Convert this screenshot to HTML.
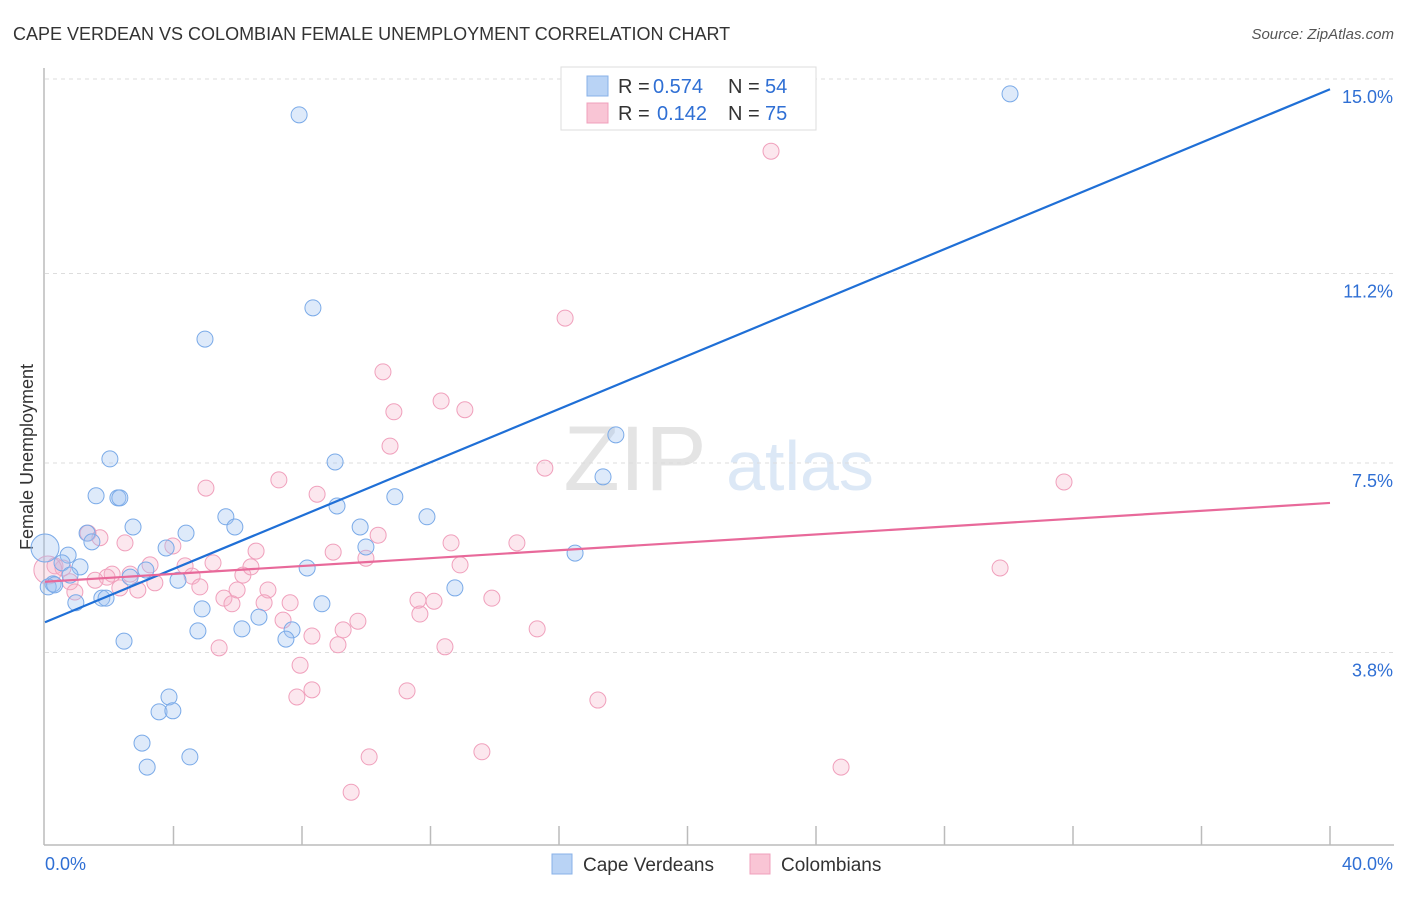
<!DOCTYPE html>
<html><head><meta charset="utf-8"><style>
body{margin:0;background:#fff;font-family:"Liberation Sans",sans-serif;}
svg text{font-family:"Liberation Sans",sans-serif;}
</style></head><body>
<svg id="chart" width="1406" height="892" xmlns="http://www.w3.org/2000/svg">
<text x="13" y="40" font-size="18" fill="#333">CAPE VERDEAN VS COLOMBIAN FEMALE UNEMPLOYMENT CORRELATION CHART</text>
<text x="1394" y="39" font-size="15" fill="#555" text-anchor="end" font-style="italic">Source: ZipAtlas.com</text>
<text transform="translate(33,457) rotate(-90)" font-size="18" fill="#333" text-anchor="middle">Female Unemployment</text>
<g><text x="635" y="490" font-size="92" fill="#e4e4e4" text-anchor="middle" font-family="Liberation Serif,serif">ZIP</text><text x="800" y="490" font-size="70" fill="#dce8f6" text-anchor="middle">atlas</text></g>
<g id="grid"></g><g id="axes"></g><g id="pts"></g><g id="lines"></g>
<g>
<rect x="561" y="67" width="255" height="63" fill="#fff" stroke="#ddd"/>
<rect x="587" y="76" width="21" height="20" fill="#b9d3f5" stroke="#88b1e8"/>
<rect x="587" y="103" width="21" height="20" fill="#f9c5d5" stroke="#f0a0bc"/>
<text x="618" y="93" font-size="20" fill="#333">R =</text>
<text x="653" y="93" font-size="20" fill="#2f6fd4">0.574</text>
<text x="728" y="93" font-size="20" fill="#333">N =</text>
<text x="765" y="93" font-size="20" fill="#2f6fd4">54</text>
<text x="618" y="120" font-size="20" fill="#333">R =</text>
<text x="657" y="120" font-size="20" fill="#2f6fd4">0.142</text>
<text x="728" y="120" font-size="20" fill="#333">N =</text>
<text x="765" y="120" font-size="20" fill="#2f6fd4">75</text>
</g>
<g>
<rect x="552" y="854" width="20" height="20" fill="#b9d3f5" stroke="#88b1e8"/>
<text x="583" y="871" font-size="19" fill="#333">Cape Verdeans</text>
<rect x="750" y="854" width="20" height="20" fill="#f9c5d5" stroke="#f0a0bc"/>
<text x="781" y="871" font-size="19" fill="#333">Colombians</text>
</g>
</svg>
<script>
const blueX=[7.91,30.04,8.34,4.98,2.02,9.03,17.77,17.37,1.59,2.27,2.33,10.89,9.09,11.89,5.63,5.91,2.74,4.39,9.81,1.31,1.46,9.99,3.77,16.50,0.72,0.53,1.09,3.14,8.16,2.65,0.78,4.14,0.25,0.1,0.3,12.76,1.77,1.90,0.96,8.62,4.89,6.66,6.13,4.76,7.69,7.50,2.46,3.86,3.55,3.98,3.02,3.18,4.51,0];
const blueY=[14.30,14.71,10.53,9.92,7.58,7.52,8.05,7.23,6.86,6.82,6.82,6.84,6.66,6.45,6.45,6.25,6.25,6.13,6.25,6.13,5.96,5.86,5.84,5.74,5.70,5.55,5.47,5.41,5.45,5.27,5.31,5.21,5.14,5.08,5.12,5.06,4.86,4.86,4.77,4.75,4.65,4.49,4.26,4.22,4.24,4.06,4.02,2.93,2.64,2.66,2.03,1.56,1.76,5.84];
const pinkX=[22.60,16.19,10.52,10.86,12.33,13.07,10.74,15.56,31.72,7.28,5.01,8.47,10.37,1.34,1.71,2.49,12.64,14.69,6.57,8.97,3.98,9.99,5.23,3.27,4.36,12.92,0.31,0.56,29.73,2.09,6.16,6.41,4.58,2.65,1.93,1.56,3.42,0.78,5.98,6.94,4.82,2.33,2.89,5.57,5.82,6.82,7.63,12.11,11.61,13.91,0.93,7.41,11.67,9.74,9.28,8.31,15.32,9.12,5.42,12.45,7.94,7.84,8.31,11.27,17.21,13.60,10.09,24.78,9.53,0.09];
const pinkY=[13.59,10.33,9.28,8.50,8.71,8.54,7.83,7.40,7.13,7.17,7.01,6.89,6.09,6.13,6.04,5.94,5.94,5.94,5.78,5.76,5.88,5.64,5.55,5.51,5.49,5.51,5.49,5.45,5.45,5.33,5.31,5.47,5.29,5.33,5.27,5.21,5.16,5.18,5.02,5.02,5.08,5.06,5.02,4.86,4.75,4.77,4.77,4.80,4.82,4.86,4.98,4.43,4.55,4.41,4.24,4.12,4.26,3.95,3.89,3.91,3.55,2.93,3.07,3.05,2.87,1.86,1.76,1.56,1.07,5.41];
const blueTrend=[4.39,14.80];
const pinkTrend=[5.18,6.72];
const yTicks=[3.8,7.5,11.2,15.0];
const yTickLabels=["3.8%","7.5%","11.2%","15.0%"];
const xTickCount=10;
const NS="http://www.w3.org/2000/svg";
const X0=45,X1=1330,YB=847,YS=51.2;
const sx=v=>X0+(X1-X0)*v/40;
const sy=v=>YB-v*YS;
function mk(tag,attrs,parent){const e=document.createElementNS(NS,tag);for(const k in attrs)e.setAttribute(k,attrs[k]);document.getElementById(parent).appendChild(e);return e;}
yTicks.forEach((t,i)=>{
 const g=mk('line',{x1:45,x2:1394,y1:sy(t),y2:sy(t),stroke:'#ddd','stroke-dasharray':'4,4'},'grid');
 
 
 const tx=mk('text',{x:1393,y:sy(t)+24,'font-size':18,fill:'#2f6fd4','text-anchor':'end'},'grid');
 tx.textContent=yTickLabels[i];
 
 
});
const ax=mk('line',{x1:44,x2:1394,y1:845,y2:845,stroke:'#bbb','stroke-width':1.5},'axes');


const ay=mk('line',{x1:44,x2:44,y1:68,y2:845,stroke:'#bbb','stroke-width':1.5},'axes');


for(let i=1;i<=xTickCount;i++){
 const t=mk('line',{x1:sx(i*4),x2:sx(i*4),y1:826,y2:845,stroke:'#bbb','stroke-width':1.5},'axes');
 
 
}
const l0=mk('text',{x:45,y:870,'font-size':18,fill:'#2f6fd4'},'axes');l0.textContent='0.0%';


const l1=mk('text',{x:1393,y:870,'font-size':18,fill:'#2f6fd4','text-anchor':'end'},'axes');l1.textContent='40.0%';


pinkX.forEach((x,i)=>{
 const c=mk('circle',{cx:sx(x),cy:sy(pinkY[i]),r:i===pinkX.length-1?14:8,fill:'rgba(246,175,200,0.3)',stroke:'#f0a0bc','stroke-width':1},'pts');
 
 
});
blueX.forEach((x,i)=>{
 const c=mk('circle',{cx:sx(x),cy:sy(blueY[i]),r:i===blueX.length-1?14:8,fill:'rgba(160,196,240,0.35)',stroke:'#7aaae8','stroke-width':1},'pts');
 
 
});
const bl=mk('line',{x1:sx(0),y1:sy(blueTrend[0]),x2:sx(40),y2:sy(blueTrend[1]),stroke:'#1f6fd6','stroke-width':2.2},'lines');


const pl=mk('line',{x1:sx(0),y1:sy(pinkTrend[0]),x2:sx(40),y2:sy(pinkTrend[1]),stroke:'#e8699a','stroke-width':2.2},'lines');


</script>
</body></html>
